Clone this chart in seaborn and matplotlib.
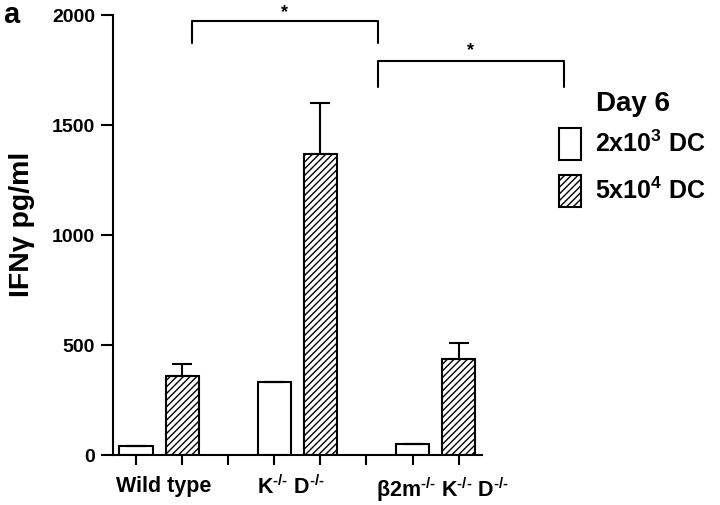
import numpy as np
import pandas as pd
import seaborn as sns
import matplotlib.pyplot as plt
from matplotlib.patches import Patch

# data
positions = [0, 1, 3, 4, 6, 7]
doses = ['2x10^3', '5x10^4', '2x10^3', '5x10^4', '2x10^3', '5x10^4']
ifng = [40, 360, 330, 1370, 50, 438]
err_up = [0, 52, 0, 230, 0, 70]
group_labels = ['Wild type', r'K$^{\text{-/-}}$ D$^{\text{-/-}}$',
                r'$\beta$2m$^{\text{-/-}}$ K$^{\text{-/-}}$ D$^{\text{-/-}}$']
group_label_pos = [0.6, 3.35, 6.65]
tick_marks = [0, 1, 2, 3, 4, 5, 6, 7]

df = pd.DataFrame({'pos': positions, 'value': ifng, 'dose': doses})

sns.set_style('ticks')
plt.rcParams['font.family'] = ['Liberation Sans', 'DejaVu Sans']
plt.rcParams['font.weight'] = 'bold'
for k in ['text.color', 'axes.labelcolor', 'xtick.color', 'ytick.color', 'axes.edgecolor']:
    plt.rcParams[k] = 'black'
plt.rcParams['mathtext.fontset'] = 'custom'
plt.rcParams['mathtext.rm'] = 'Liberation Sans:bold'
plt.rcParams['mathtext.bf'] = 'Liberation Sans:bold'
plt.rcParams['mathtext.it'] = 'Liberation Sans:bold'
plt.rcParams['mathtext.default'] = 'bf'
plt.rcParams['hatch.linewidth'] = 1.0

fig = plt.figure(figsize=(7.2, 5.05), dpi=100)
ax = fig.add_axes([0.157, 0.099, 0.512, 0.871])

sns.barplot(data=df, x='pos', y='value', native_scale=True, color='white',
            edgecolor='black', linewidth=1.5, width=0.72, errorbar=None, ax=ax)
for p, d in zip(ax.patches, df['dose']):
    if d == '5x10^4':
        p.set_hatch('/////')

ax.errorbar(positions, ifng, yerr=[np.zeros(len(err_up)), err_up], fmt='none',
            ecolor='black', elinewidth=1.5, capsize=7, capthick=1.5)

ax.set_xlim(-0.5, 7.5)
ax.set_ylim(0, 2000)
ax.set_yticks([0, 500, 1000, 1500, 2000])
ax.tick_params(axis='y', direction='out', length=9, width=1.5, labelsize=14, pad=4)
ax.set_xticks(group_label_pos)
ax.set_xticklabels(group_labels, fontsize=15.5, fontweight='bold')
ax.tick_params(axis='x', which='major', length=0, pad=15)
ax.set_xticks(tick_marks, minor=True)
ax.tick_params(axis='x', which='minor', direction='out', length=7, width=1.5)
for lbl in ax.get_yticklabels():
    lbl.set_fontweight('bold')
ax.set_xlabel('')
ax.set_ylabel('')
sns.despine(ax=ax)
ax.spines['left'].set_linewidth(1.5)
ax.spines['bottom'].set_linewidth(1.5)

fig.text(0.030, 0.556, 'IFN\u03b3 pg/ml', rotation=90, fontsize=20.5,
         fontweight='bold', ha='center', va='center')

# significance brackets
def bracket(x0, x1, ytop, ybot, ystar):
    ax.plot([x0, x0, x1, x1], [ybot, ytop, ytop, ybot], color='black',
            lw=1.5, clip_on=False)
    ax.text((x0 + x1) / 2, ystar, '*', ha='center', va='center',
            fontsize=13, fontweight='bold', clip_on=False)

bracket(1.22, 5.24, 1974, 1874, 2010)
bracket(5.24, 9.28, 1790, 1673, 1840)

# legend
handles = [Patch(facecolor='white', edgecolor='black', linewidth=1.5),
           Patch(facecolor='white', edgecolor='black', linewidth=1.5, hatch='/////')]
labels = [r'2x10$^{3}$ DC', r'5x10$^{4}$ DC']
fig.legend(handles, labels, loc='upper left', bbox_to_anchor=(0.776, 0.746),
           frameon=False, fontsize=18, handlelength=0.88, handleheight=1.58,
           labelspacing=0.61, handletextpad=0.56, borderpad=0, borderaxespad=0)
fig.text(0.828, 0.794, 'Day 6', fontsize=20, fontweight='bold', ha='left', va='center')
fig.text(0.005, 0.998, 'a', fontsize=21, fontweight='bold', ha='left', va='top')

fig.savefig('out.png', dpi=100)
